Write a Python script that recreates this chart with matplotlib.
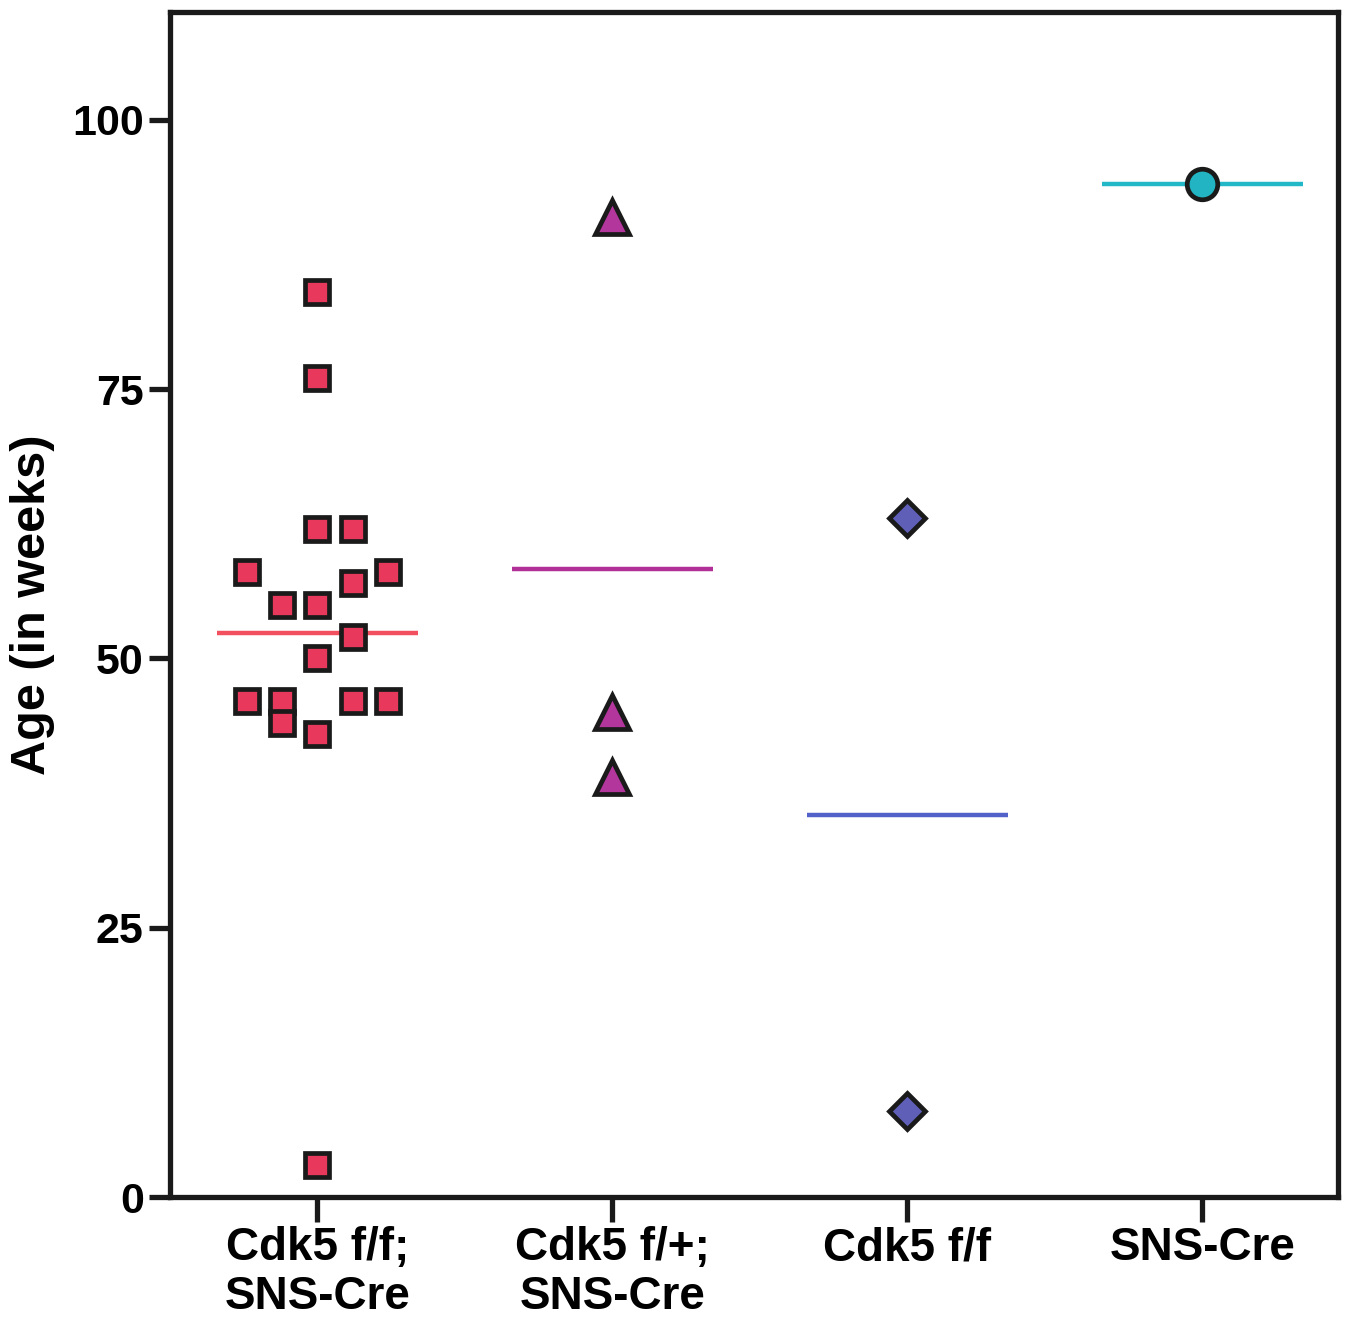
import numpy as np
import matplotlib.pyplot as plt

plt.rcParams['font.family'] = ['Liberation Sans', 'DejaVu Sans']
plt.rcParams['font.weight'] = 'bold'

# groups and values (age in weeks)
groups = ['Cdk5 f/f;\nSNS-Cre', 'Cdk5 f/+;\nSNS-Cre', 'Cdk5 f/f', 'SNS-Cre']
ff_cre = [84, 76, 62, 62, 58, 58, 57, 55, 55, 52, 50, 46, 46, 46, 46, 44, 43, 3]
ff_cre_slot = [0, 0, 0, 1, -2, 2, 1, -1, 0, 1, 0, -2, -1, 1, 2, -1, 0, 0]
fp_cre = [91, 45, 39]
ff_only = [63, 8]
cre_only = [94]

values = [ff_cre, fp_cre, ff_only, cre_only]
slots = [ff_cre_slot, [0, 0, 0], [0, 0], [0]]
markers = ['s', '^', 'D', 'o']
msizes = [17, 24, 18, 22]
fills = ['#e8385c', '#b2369c', '#5f5fb8', '#22b4c2']
line_colors = ['#f2505e', '#b03098', '#5262c8', '#22b8c8']

fig = plt.figure(figsize=(13.58, 13.17), dpi=100)
ax = fig.add_axes([0.1252, 0.0911, 0.8601, 0.8998])

step = 0.12
half = 0.34
for i, (vals, sl) in enumerate(zip(values, slots)):
    m = np.mean(vals)
    ax.plot([i - half, i + half], [m, m], color=line_colors[i], lw=3.2, zorder=2,
            solid_capstyle='butt')
    xs = i + np.array(sl) * step
    ax.plot(xs, vals, linestyle='none', marker=markers[i], ms=msizes[i],
            markerfacecolor=fills[i], markeredgecolor='#1a1a1a', mew=3.4, zorder=3)

ax.set_xlim(-0.5, 3.46)
ax.set_ylim(0, 110)
ax.set_yticks([0, 25, 50, 75, 100])
ax.set_xticks(range(len(groups)))
ax.set_xticklabels(groups, fontsize=33, fontweight='bold', linespacing=1.15)
ax.tick_params(axis='y', labelsize=31, length=15, width=3.8, pad=4, color='#1a1a1a')
ax.tick_params(axis='x', length=18, width=3.8, pad=3, color='#1a1a1a')
for lab in ax.get_yticklabels():
    lab.set_fontweight('bold')
for sp in ax.spines.values():
    sp.set_linewidth(3.8)
    sp.set_color('#1a1a1a')

ax.set_ylabel('Age (in weeks)', fontsize=35, fontweight='bold', labelpad=12)

fig.savefig('out.png', dpi=100)
